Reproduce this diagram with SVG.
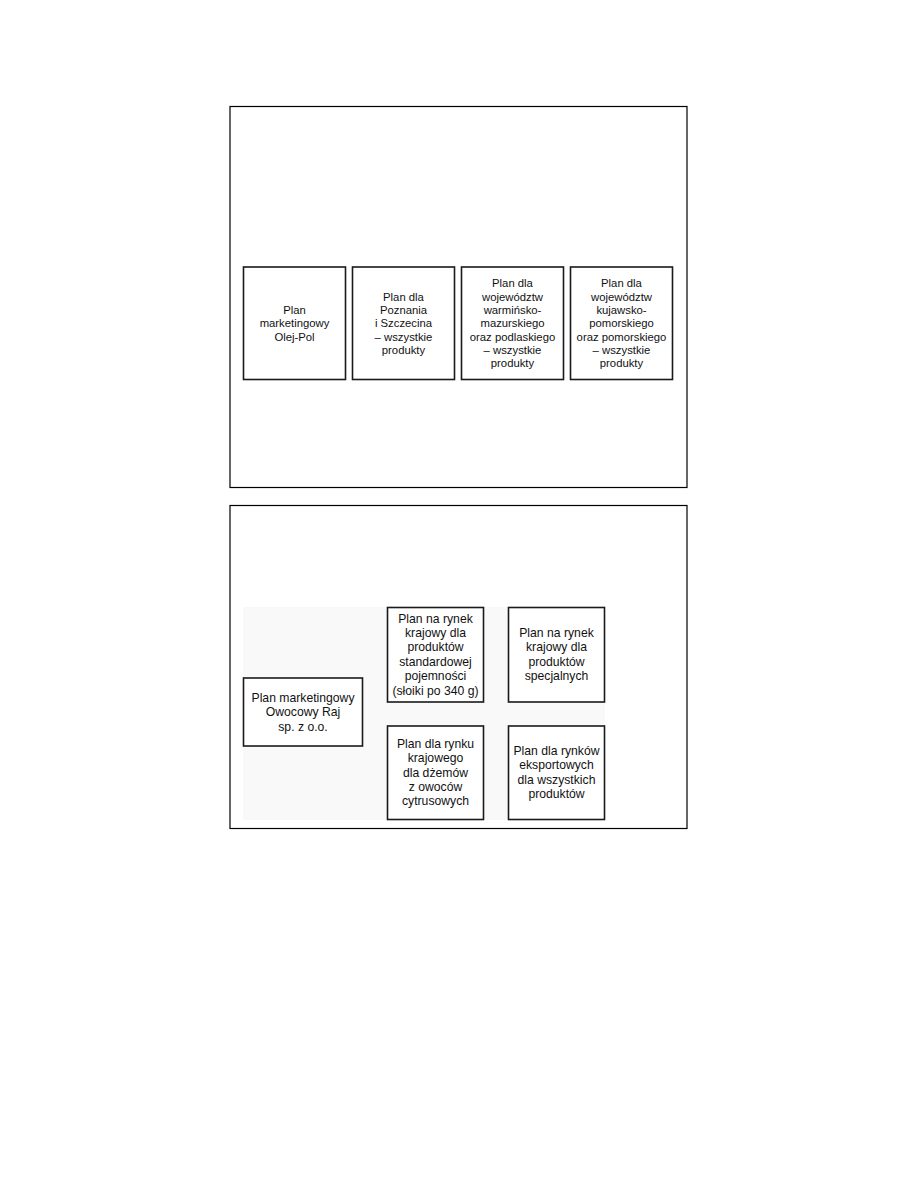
<svg xmlns="http://www.w3.org/2000/svg" width="918" height="1188" viewBox="0 0 918 1188">
<style>
.frame{fill:#fff;stroke:#000;stroke-width:1.2}
.box{fill:#fff;stroke:#1a1a1a;stroke-width:1.6}
.t1{font-family:"Liberation Sans",Arial,sans-serif;font-size:11.3px;fill:#111;text-anchor:middle}
.t2{font-family:"Liberation Sans",Arial,sans-serif;font-size:12.2px;fill:#111;text-anchor:middle}
</style>
<rect width="918" height="1188" fill="#fff"/>
<rect class="frame" x="230" y="106.5" width="457" height="381"/>
<rect class="frame" x="230" y="505.5" width="457" height="323"/>
<rect x="243" y="607" width="362" height="213" fill="#f9f9f9"/>
<g id="connectors"></g>
<g id="n1">
<rect class="box" x="243.5" y="267" width="102" height="112.5"/>
<text class="t1" x="294.5"><tspan x="294.5" y="314">Plan</tspan><tspan x="294.5" y="327.3">marketingowy</tspan><tspan x="294.5" y="340.6">Olej-Pol</tspan></text>
</g>
<g id="n2">
<rect class="box" x="352.5" y="267" width="102" height="112.5"/>
<text class="t1"><tspan x="403.5" y="300.7">Plan dla</tspan><tspan x="403.5" y="314">Poznania</tspan><tspan x="403.5" y="327.3">i Szczecina</tspan><tspan x="403.5" y="340.6">– wszystkie</tspan><tspan x="403.5" y="353.9">produkty</tspan></text>
</g>
<g id="n3">
<rect class="box" x="461.5" y="267" width="102" height="112.5"/>
<text class="t1"><tspan x="512.5" y="287.4">Plan dla</tspan><tspan x="512.5" y="300.7">województw</tspan><tspan x="512.5" y="314">warmińsko-</tspan><tspan x="512.5" y="327.3">mazurskiego</tspan><tspan x="512.5" y="340.6">oraz podlaskiego</tspan><tspan x="512.5" y="353.9">– wszystkie</tspan><tspan x="512.5" y="367.2">produkty</tspan></text>
</g>
<g id="n4">
<rect class="box" x="570.5" y="267" width="102" height="112.5"/>
<text class="t1"><tspan x="621.5" y="287.4">Plan dla</tspan><tspan x="621.5" y="300.7">województw</tspan><tspan x="621.5" y="314">kujawsko-</tspan><tspan x="621.5" y="327.3">pomorskiego</tspan><tspan x="621.5" y="340.6">oraz pomorskiego</tspan><tspan x="621.5" y="353.9">– wszystkie</tspan><tspan x="621.5" y="367.2">produkty</tspan></text>
</g>
<g id="m1">
<rect class="box" x="243.5" y="678" width="119" height="68"/>
<text class="t2"><tspan x="303" y="701.6">Plan marketingowy</tspan><tspan x="303" y="715.9">Owocowy Raj</tspan><tspan x="303" y="730.6">sp. z o.o.</tspan></text>
</g>
<g id="m2">
<rect class="box" x="387.5" y="607.5" width="96" height="94.5"/>
<text class="t2"><tspan x="435.5" y="622.6">Plan na rynek</tspan><tspan x="435.5" y="637">krajowy dla</tspan><tspan x="435.5" y="651.4">produktów</tspan><tspan x="435.5" y="665.8">standardowej</tspan><tspan x="435.5" y="680.2">pojemności</tspan><tspan x="435.5" y="694.6">(słoiki po 340 g)</tspan></text>
</g>
<g id="m3">
<rect class="box" x="508.5" y="607.5" width="96" height="94.5"/>
<text class="t2"><tspan x="556.5" y="637">Plan na rynek</tspan><tspan x="556.5" y="651.4">krajowy dla</tspan><tspan x="556.5" y="665.8">produktów</tspan><tspan x="556.5" y="680.2">specjalnych</tspan></text>
</g>
<g id="m4">
<rect class="box" x="387.5" y="726" width="96" height="93.5"/>
<text class="t2"><tspan x="435.5" y="748">Plan dla rynku</tspan><tspan x="435.5" y="762.3">krajowego</tspan><tspan x="435.5" y="776.6">dla dżemów</tspan><tspan x="435.5" y="790.9">z owoców</tspan><tspan x="435.5" y="805.2">cytrusowych</tspan></text>
</g>
<g id="m5">
<rect class="box" x="508.5" y="726" width="96" height="93.5"/>
<text class="t2"><tspan x="556.5" y="755">Plan dla rynków</tspan><tspan x="556.5" y="769.3">eksportowych</tspan><tspan x="556.5" y="783.6">dla wszystkich</tspan><tspan x="556.5" y="797.9">produktów</tspan></text>
</g>
</svg>
